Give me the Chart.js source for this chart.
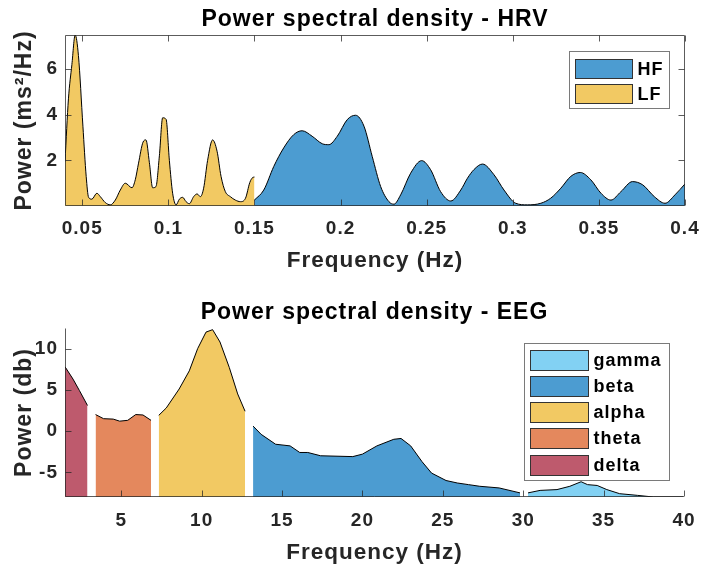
<!DOCTYPE html>
<html><head><meta charset="utf-8">
<script src="https://cdn.jsdelivr.net/npm/chart.js@4.4.1/dist/chart.umd.min.js"></script>
<style>
html,body{margin:0;padding:0;background:#fff;}
#wrap{position:relative;width:701px;height:578px;overflow:hidden;}
canvas{position:absolute;left:0;}
</style></head><body>
<div id="wrap">
<canvas id="c1" width="701" height="289" style="top:0"></canvas>
<canvas id="c2" width="701" height="289" style="top:289px"></canvas>
</div>
<script>
// ---------- HRV data ----------
const lfFreq = [0.040,0.042,0.044,0.0459,0.0478,0.0504,0.0523,0.0537,0.0556,0.0585,0.0605,0.0634,0.0663,0.0692,0.0721,0.075,0.0789,0.0808,0.0827,0.0853,0.087,0.089,0.0909,0.0928,0.0948,0.0967,0.0987,0.1006,0.1025,0.1045,0.1064,0.1083,0.1103,0.1122,0.1147,0.1167,0.1186,0.1205,0.1228,0.1257,0.1283,0.1306,0.1331,0.136,0.1389,0.1419,0.1448,0.1473,0.149,0.15];
const lfPower = [1.95,4.7,6.2,7.5,6.6,3.5,1.3,0.38,0.3,0.56,0.41,0.15,0.05,0.26,0.7,1.0,0.8,1.15,1.88,2.8,2.9,1.9,0.8,0.85,2.2,3.87,3.8,2.0,0.56,0.05,0.3,0.38,0.19,0.1,0.41,0.53,0.41,0.78,2.0,2.9,2.4,1.3,0.63,0.41,0.26,0.19,0.34,1.03,1.25,1.27];
const hfFreq = [0.15,0.1554,0.1612,0.167,0.1728,0.1777,0.1835,0.1894,0.1932,0.1981,0.2039,0.2087,0.2136,0.2184,0.2233,0.2281,0.231,0.2349,0.2407,0.2471,0.2523,0.2581,0.264,0.2698,0.2737,0.2775,0.2824,0.2891,0.2949,0.3017,0.3085,0.3163,0.322,0.3279,0.3337,0.3392,0.3453,0.3512,0.357,0.3628,0.3695,0.3754,0.3822,0.3884,0.3942,0.4];
const hfPower = [0.26,0.7,1.73,2.55,3.13,3.3,3.06,2.73,2.69,3.06,3.79,3.98,3.5,2.17,0.85,0.19,0.08,0.49,1.44,1.99,1.59,0.63,0.22,0.7,1.22,1.6,1.84,1.37,0.7,0.12,0.05,0.12,0.34,0.78,1.3,1.47,1.15,0.56,0.26,0.63,1.07,0.93,0.41,0.12,0.49,0.97];
const hrvXTicks = [0.05,0.1,0.15,0.2,0.25,0.3,0.35,0.4];
const hrvXTickLabels = ['0.05','0.1','0.15','0.2','0.25','0.3','0.35','0.4'];
const hrvYTicks = [2,4,6];
const hrvYTickLabels = ['2','4','6'];

// ---------- EEG data ----------
const deltaFreq = [1.5,2.0,2.4,2.9];
const deltaPower = [7.8,6.3,4.9,3.1];
const thetaFreq = [3.4,3.9,4.5,4.9,5.4,5.9,6.35,6.85];
const thetaPower = [2.0,1.5,1.45,1.2,1.3,2.0,1.95,1.3];
const alphaFreq = [7.33,7.8,8.6,9.23,9.75,10.27,10.68,11.14,11.72,12.24,12.7];
const alphaPower = [1.9,2.8,5.1,7.3,10.0,12.0,12.3,10.8,7.7,4.5,2.4];
const betaFreq = [13.2,13.7,14.6,15.5,16.1,16.6,17.4,19.4,20.0,20.9,21.95,22.4,23.0,23.7,24.3,25.2,25.9,26.6,27.3,28.5,29.8];
const betaPower = [0.6,-0.4,-1.6,-1.8,-2.6,-2.6,-3.0,-3.1,-2.8,-1.8,-1.0,-0.9,-1.8,-3.7,-5.1,-6.0,-6.3,-6.5,-6.7,-6.9,-7.5];
const gammaFreq = [30.3,31.05,32.1,32.9,33.6,34.0,34.6,35.2,36.0,37.1,38.1,40];
const gammaPower = [-7.5,-7.2,-7.1,-6.7,-6.15,-6.5,-6.6,-7.1,-7.6,-7.8,-8.0,-8.0];
const eegXTicks = [5,10,15,20,25,30,35,40];
const eegXTickLabels = ['5','10','15','20','25','30','35','40'];
const eegYTicks = [-5,0,5,10];
const eegYTickLabels = ['-5','0','5','10'];

// ---------- styling ----------
const FAM = "'Liberation Sans', Arial, sans-serif";
const C = {hf:'#4c9cd1', lf:'#f2c963', delta:'#be5a6d', theta:'#e4885d', alpha:'#f2c963', beta:'#4c9cd1', gamma:'#82d1f3'};
const pts = (f,p) => f.map((v,i)=>({x:v,y:p[i]}));

const spacingPlugin = {
  id:'spacing',
  beforeUpdate(chart){ chart.ctx.letterSpacing='1px'; },
  beforeDraw(chart){ chart.ctx.letterSpacing='1px'; }
};

const axesPlugin = {
  id:'matlabAxes',
  afterDatasetsDraw(chart, args, o){
    const {ctx, chartArea:a, scales:{x,y}} = chart;
    const L=Math.round(a.left)+0.5, R=Math.round(a.right)-0.5, T=Math.round(a.top)+0.5, B=Math.round(a.bottom)-0.5;
    ctx.save();
    ctx.strokeStyle=o.color; ctx.lineWidth=1;
    ctx.beginPath();
    ctx.moveTo(L,T); ctx.lineTo(L,B); ctx.lineTo(R,B);
    if(o.box){ ctx.moveTo(L,T); ctx.lineTo(R,T); ctx.lineTo(R,B); }
    const tl=6;
    x.ticks.forEach(t=>{ const px=Math.round(x.getPixelForValue(t.value))+0.5;
      ctx.moveTo(px,B); ctx.lineTo(px,B-tl);
      if(o.box){ ctx.moveTo(px,T); ctx.lineTo(px,T+tl); } });
    y.ticks.forEach(t=>{ const py=Math.round(y.getPixelForValue(t.value))+0.5;
      ctx.moveTo(L,py); ctx.lineTo(L+tl,py);
      if(o.box){ ctx.moveTo(R,py); ctx.lineTo(R-tl,py); } });
    ctx.stroke();
    ctx.restore();
  }
};

const legendPlugin = {
  id:'boxLegend',
  afterDraw(chart, args, o){
    const {ctx, chartArea:a} = chart;
    const bx=Math.round(a.right+o.dx)+0.5, by=Math.round(a.top+o.dy)+0.5;
    ctx.save();
    ctx.letterSpacing='1px';
    ctx.fillStyle='#fff'; ctx.strokeStyle='#7a7a7a'; ctx.lineWidth=1;
    ctx.fillRect(bx,by,o.w,o.h); ctx.strokeRect(bx,by,o.w,o.h);
    ctx.font="bold "+o.fs+"px "+FAM; ctx.textBaseline='middle'; ctx.textAlign='left';
    o.order.forEach((di,k)=>{
      const ds=chart.data.datasets[di];
      const sy=Math.round(by+o.sy+k*o.step)+0.5;
      ctx.fillStyle=ds.backgroundColor; ctx.fillRect(bx+o.sx,sy,o.sw,o.sh);
      ctx.strokeStyle='#333'; ctx.strokeRect(bx+o.sx,sy,o.sw,o.sh);
      ctx.fillStyle='#000'; ctx.fillText(ds.label,bx+o.tx,sy+o.sh/2+1);
    });
    ctx.restore();
  }
};

function makeOptions(cfg){
  return {
    responsive:false, animation:false, devicePixelRatio:1,
    layout:{padding:{left:0,right:cfg.padRight,top:0,bottom:0}},
    plugins:{
      legend:{display:false}, tooltip:{enabled:false},
      title:{display:true, text:cfg.title, fullSize:false, color:'#000',
        font:{family:FAM,size:23,weight:'bold'}, padding:{top:cfg.titleTop,bottom:cfg.titleBottom}},
      matlabAxes:{color:'rgba(38,38,38,0.75)', box:cfg.box},
      boxLegend:cfg.legend
    },
    elements:{point:{radius:0}},
    scales:{
      x:{type:'linear', min:cfg.xMin, max:cfg.xMax,
        afterBuildTicks:s=>{ s.ticks=cfg.xTicks.map(v=>({value:v})); },
        afterFit:s=>{ s.height=cfg.xH; s.paddingLeft=0; s.paddingRight=0; },
        grid:{display:false, drawTicks:false}, border:{display:false},
        ticks:{autoSkip:false, maxRotation:0, padding:cfg.xTickPad, color:'#262626',
          font:{family:FAM,size:19,weight:'bold'}, callback:(v,i)=>cfg.xLabels[i]},
        title:{display:true, text:'Frequency (Hz)', color:'#262626',
          font:{family:FAM,size:22.5,weight:'bold'}, padding:{top:0,bottom:cfg.xTitlePad}}
      },
      y:{type:'linear', min:cfg.yMin, max:cfg.yMax,
        afterBuildTicks:s=>{ s.ticks=cfg.yTicks.map(v=>({value:v})); },
        afterFit:s=>{ s.width=65; s.paddingTop=0; s.paddingBottom=0; },
        grid:{display:false, drawTicks:false}, border:{display:false},
        ticks:{padding:7, color:'#262626', font:{family:FAM,size:19,weight:'bold'},
          callback:(v,i)=>cfg.yLabels[i]},
        title:{display:true, text:cfg.yTitle, color:'#262626',
          font:{family:FAM,size:23,weight:'bold'}, padding:{top:10.7,bottom:0}}
      }
    }
  };
}

function area(label, f, p, color, smooth){
  return {label, data:pts(f,p), backgroundColor:color, borderColor:'#000', borderWidth:1,
    fill:'start', pointRadius:0, tension:0, cubicInterpolationMode: smooth?'monotone':'default'};
}

new Chart(document.getElementById('c1'), {
  type:'line',
  data:{datasets:[ area('HF',hfFreq,hfPower,C.hf,true), area('LF',lfFreq,lfPower,C.lf,true) ]},
  options:makeOptions({title:'Power spectral density - HRV', padRight:16, titleTop:6.2, titleBottom:1.2,
    box:true, xMin:0.04, xMax:0.4, xTicks:hrvXTicks, xLabels:hrvXTickLabels, xH:83, xTickPad:11.6, xTitlePad:14.5,
    yMin:0, yMax:7.5, yTicks:hrvYTicks, yLabels:hrvYTickLabels, yTitle:'Power (ms²/Hz)',
    legend:{order:[0,1], dx:-116, dy:16, w:100, h:57, sw:57, sh:19, sx:6, sy:7, step:25.5, tx:68, fs:18}}),
  plugins:[spacingPlugin, axesPlugin, legendPlugin]
});

new Chart(document.getElementById('c2'), {
  type:'line',
  data:{datasets:[ area('delta',deltaFreq,deltaPower,C.delta,false), area('theta',thetaFreq,thetaPower,C.theta,false),
    area('alpha',alphaFreq,alphaPower,C.alpha,false), area('beta',betaFreq,betaPower,C.beta,false),
    area('gamma',gammaFreq,gammaPower,C.gamma,false) ]},
  options:makeOptions({title:'Power spectral density - EEG', padRight:17, titleTop:10.2, titleBottom:1.2,
    box:false, xMin:1.5, xMax:40, xTicks:eegXTicks, xLabels:eegXTickLabels, xH:81, xTickPad:12.6, xTitlePad:11.5,
    yMin:-8, yMax:12.5, yTicks:eegYTicks, yLabels:eegYTickLabels, yTitle:'Power (db)',
    legend:{order:[4,3,2,1,0], dx:-160, dy:15, w:145, h:137, sw:58, sh:20, sx:6, sy:6, step:26.3, tx:69, fs:18}}),
  plugins:[spacingPlugin, axesPlugin, legendPlugin]
});
</script>
</body></html>
